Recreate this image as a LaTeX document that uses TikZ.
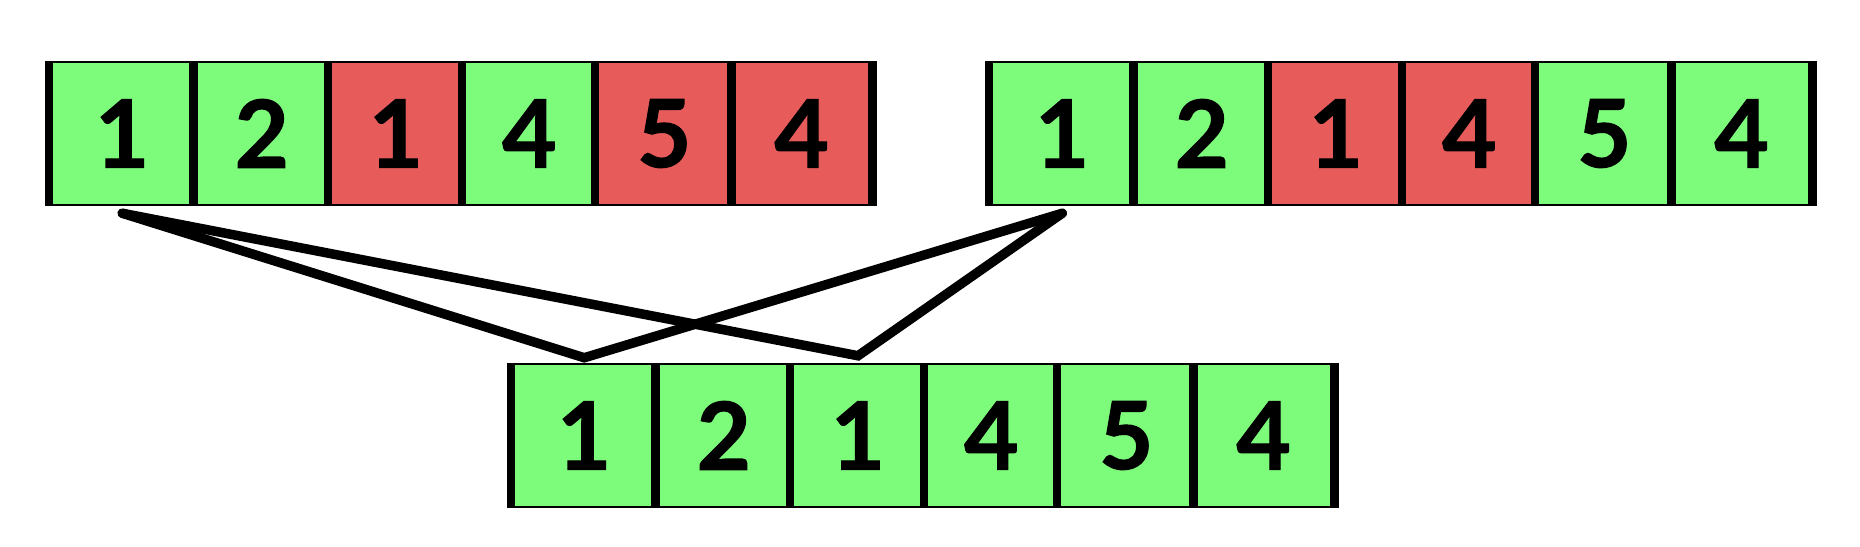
\documentclass[tikz,border=0pt]{standalone}
\usepackage{fontspec}
\setmainfont{Lato}[BoldFeatures={FakeBold=1.2}]
\definecolor{cellgreen}{RGB}{125,251,123}
\definecolor{cellred}{RGB}{232,91,91}
\tikzset{
  cell/.style={rectangle, inner sep=0pt, minimum height=143pt, draw=black,
    line width=2.5pt, font=\fontsize{94pt}{100pt}\selectfont\bfseries},
  good/.style={cell, fill=cellgreen},
  bad/.style={cell, fill=cellred},
  divider/.style={draw=black, line width=8.5pt},
  conn/.style={draw=black, line width=9.5pt, line cap=round, line join=miter}
}
\begin{document}
\begin{tikzpicture}[x=1pt,y=-1pt]
\useasboundingbox (0,0) rectangle (1860,546);
% parent 1
\node[good, minimum width=144.5pt] (a1) at (122.25,133.5) {1};
\node[good, minimum width=134.5pt] (a2) at (261.75,133.5) {2};
\node[bad,  minimum width=134pt]   (a3) at (396,133.5) {1};
\node[good, minimum width=133pt]   (a4) at (529.5,133.5) {4};
\node[bad,  minimum width=136.5pt] (a5) at (664.25,133.5) {5};
\node[bad,  minimum width=138.5pt] (a6) at (801.75,133.5) {4};
% parent 2
\node[good, minimum width=144.5pt] (b1) at (1062.25,133.5) {1};
\node[good, minimum width=134.5pt] (b2) at (1201.75,133.5) {2};
\node[bad,  minimum width=134pt]   (b3) at (1336,133.5) {1};
\node[bad,  minimum width=133pt]   (b4) at (1469.5,133.5) {4};
\node[good, minimum width=136.5pt] (b5) at (1604.25,133.5) {5};
\node[good, minimum width=138.5pt] (b6) at (1741.75,133.5) {4};
% child
\node[good, minimum width=144.5pt] (c1) at (584.25,435.5) {1};
\node[good, minimum width=134.5pt] (c2) at (723.75,435.5) {2};
\node[good, minimum width=134pt]   (c3) at (858,435.5) {1};
\node[good, minimum width=133pt]   (c4) at (991.5,435.5) {4};
\node[good, minimum width=136.5pt] (c5) at (1126.25,435.5) {5};
\node[good, minimum width=138.5pt] (c6) at (1263.75,435.5) {4};
% thick vertical dividers
\foreach \r in {a,b,c}{
  \foreach \i in {1,...,6}{
    \draw[divider] (\r\i.north west) -- (\r\i.south west);
  }
  \draw[divider] (\r6.north east) -- (\r6.south east);
}
% connectors
\coordinate (pa) at ([yshift=-7pt]a1.south);
\coordinate (pb) at ([yshift=-7pt]b1.south);
\coordinate (qc1) at ([yshift=5pt]c1.north);
\coordinate (qc3) at ([yshift=7pt]c3.north);
\draw[conn] (pa) -- (qc1) -- (pb);
\draw[conn] (pb) -- (qc3) -- (pa);
\end{tikzpicture}
\end{document}
